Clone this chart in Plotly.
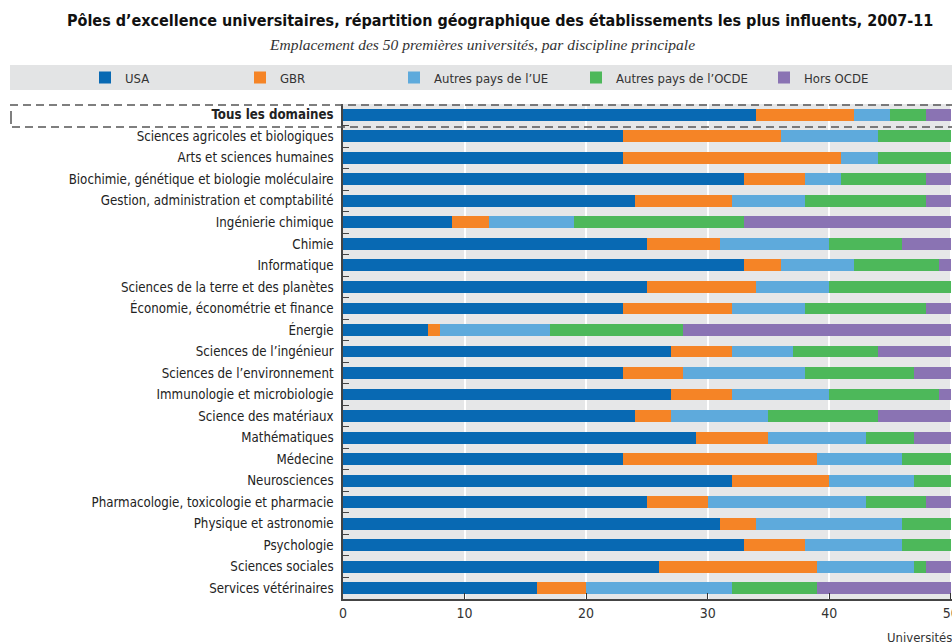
import plotly.graph_objects as go

categories = [
    "Tous les domaines",
    "Sciences agricoles et biologiques",
    "Arts et sciences humaines",
    "Biochimie, génétique et biologie moléculaire",
    "Gestion, administration et comptabilité",
    "Ingénierie chimique",
    "Chimie",
    "Informatique",
    "Sciences de la terre et des planètes",
    "Économie, économétrie et finance",
    "Énergie",
    "Sciences de l’ingénieur",
    "Sciences de l’environnement",
    "Immunologie et microbiologie",
    "Science des matériaux",
    "Mathématiques",
    "Médecine",
    "Neurosciences",
    "Pharmacologie, toxicologie et pharmacie",
    "Physique et astronomie",
    "Psychologie",
    "Sciences sociales",
    "Services vétérinaires",
]

usa  = [34, 23, 23, 33, 24,  9, 25, 33, 25, 23,  7, 27, 23, 27, 24, 29, 23, 32, 25, 31, 33, 26, 16]
gbr  = [ 8, 13, 18,  5,  8,  3,  6,  3,  9,  9,  1,  5,  5,  5,  3,  6, 16,  8,  5,  3,  5, 13,  4]
ue   = [ 3,  8,  3,  3,  6,  7,  9,  6,  6,  6,  9,  5, 10,  8,  8,  8,  7,  7, 13, 12,  8,  8, 12]
ocde = [ 3,  6,  6,  7, 10, 14,  6,  7, 10, 10, 11,  7,  9,  9,  9,  4,  4,  3,  5,  4,  4,  1,  7]
hors = [ 2,  0,  0,  2,  2, 17,  4,  1,  0,  2, 22,  6,  3,  1,  6,  3,  0,  0,  2,  0,  0,  2, 11]

series_names = ["USA", "GBR", "Autres pays de l’UE", "Autres pays de l’OCDE", "Hors OCDE"]
series_values = [usa, gbr, ue, ocde, hors]
colors = ["#0869b3", "#f58426", "#5eaadc", "#4db85a", "#8a73b3"]

x_ticks = [0, 10, 20, 30, 40, 50]

W, H = 952, 644
L, R, T, B = 343, 952, 104, 599
FONT = "DejaVu Sans Condensed, Liberation Sans Narrow, sans-serif"

def px(x):
    return (x - L) / (R - L)

def py(y):
    return (B - y) / (B - T)

fig = go.Figure()
legend_pos = [93, 248, 402, 584, 772]
for i, (name, vals, col) in enumerate(zip(series_names, series_values, colors)):
    lg = "legend" if i == 0 else f"legend{i+1}"
    fig.add_trace(go.Bar(
        y=categories, x=vals, name=name, orientation="h",
        marker=dict(color=col, line=dict(width=0)),
        legend=lg,
    ))

layout_legends = {}
for i, xp in enumerate(legend_pos):
    key = "legend" if i == 0 else f"legend{i+1}"
    layout_legends[key] = dict(
        x=(xp - 8) / W, y=1 - 77.5 / H, xref="container", yref="container",
        xanchor="left", yanchor="middle", orientation="h",
        bgcolor="rgba(0,0,0,0)", font=dict(family=FONT, size=13, color="#333"),
        itemclick=False, itemdoubleclick=False,
    )

ticktext = ["<b>Tous les domaines</b>"] + categories[1:]

fig.update_layout(
    width=W, height=H,
    margin=dict(l=L, r=W - R, t=T, b=H - B, pad=0, autoexpand=False),
    barmode="stack", bargap=0.45,
    paper_bgcolor="white", plot_bgcolor="#e6e7e8",
    font=dict(family=FONT, size=13, color="#333"),
    showlegend=True,
    xaxis=dict(
        range=[0, 50.1], tickvals=x_ticks, ticks="inside", ticklen=6,
        tickcolor="#333", showline=True, linecolor="#444", linewidth=1.5,
        showgrid=True, gridcolor="white", gridwidth=1.5, zeroline=False,
        tickfont=dict(family=FONT, size=14, color="#333"), fixedrange=True,
        ticklabeloverflow="allow", automargin=False,
    ),
    yaxis=dict(
        categoryorder="array", categoryarray=categories, autorange="reversed",
        tickvals=categories, ticktext=ticktext,
        tickson="boundaries", ticks="inside", ticklen=6, tickcolor="#444",
        showline=True, linecolor="#444", linewidth=1.5, showgrid=False,
        tickfont=dict(family=FONT, size=13.2, color="#222"), ticklabelstandoff=5,
        fixedrange=True, automargin=False,
    ),
    **layout_legends,
)

# title & subtitle
fig.add_annotation(
    x=px(500), y=py(20), xref="paper", yref="paper", showarrow=False,
    text="<b>Pôles d’excellence universitaires, répartition géographique des établissements les plus influents, 2007-11</b>",
    font=dict(family=FONT, size=16, color="#111"), xanchor="center", yanchor="middle",
)
fig.add_annotation(
    x=px(482), y=py(44), xref="paper", yref="paper", showarrow=False,
    text="<i>Emplacement des 50 premières universités, par discipline principale</i>",
    font=dict(family="Liberation Serif, DejaVu Serif, serif", size=15.5, color="#333"),
    xanchor="center", yanchor="middle",
)
fig.add_annotation(
    x=px(885), y=py(637), xref="paper", yref="paper", showarrow=False,
    text="Universités", font=dict(family=FONT, size=13, color="#333"),
    xanchor="left", yanchor="middle",
)

# legend band
fig.add_shape(type="rect", xref="paper", yref="paper",
              x0=px(10), x1=px(952), y0=py(90), y1=py(65),
              fillcolor="#e3e4e5", line=dict(width=0), layer="below")
# dashed box around "Tous les domaines"
dash = dict(color="#555", width=1.5, dash="8px,5px")
fig.add_shape(type="line", xref="paper", yref="paper",
              x0=px(10), x1=px(952), y0=py(105), y1=py(105), line=dash)
fig.add_shape(type="line", xref="paper", yref="paper",
              x0=px(12), x1=px(952), y0=py(127), y1=py(127), line=dash)
fig.add_shape(type="line", xref="paper", yref="paper",
              x0=px(11), x1=px(11), y0=py(111), y1=py(124),
              line=dict(color="#555", width=1.5))

fig.write_html(
    "out.html",
    config={"displayModeBar": False},
    post_script="document.body.style.margin='0';document.body.style.overflow='hidden';",
)
